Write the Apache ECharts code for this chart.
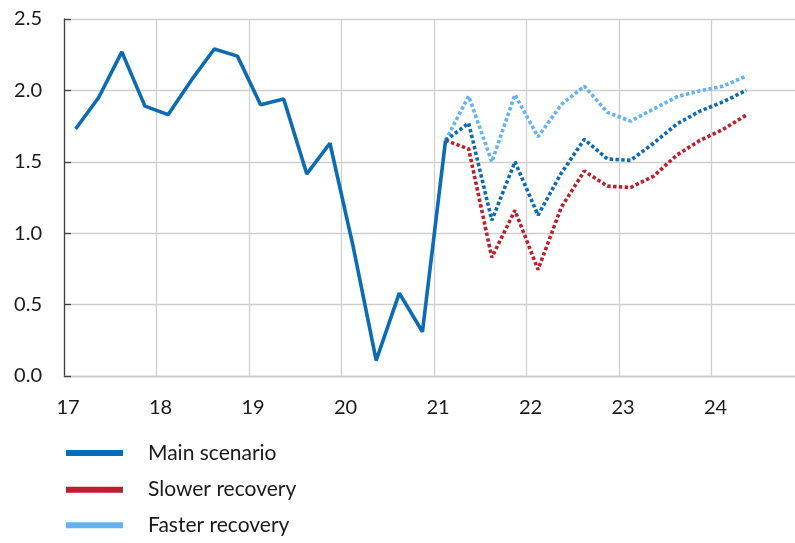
<!DOCTYPE html>
<html>
<head>
<meta charset="utf-8">
<script src="https://cdn.jsdelivr.net/npm/echarts@6/dist/echarts.min.js"></script>
<style>html,body{margin:0;padding:0;background:#fff;overflow:hidden;width:795px;height:543px;}#c{width:804px;height:543px;}</style>
</head>
<body>
<div id="c"></div>
<script>
// Quarterly categories 2017Q1 .. 2024Q4
const years = ['17','18','19','20','21','22','23','24'];
const quarters = [];
years.forEach(y => { for (let q = 1; q <= 4; q++) quarters.push(y + 'Q' + q); });

// Historical (17Q1 .. 21Q1)
const mainHistory = [1.73,1.95,2.27,1.89,1.83,2.07,2.29,2.24,1.90,1.94,1.415,1.63,0.91,0.11,0.58,0.31,1.65];
// Projections (21Q1 .. 24Q2)
const projStart = 16;
const mainProj   = [1.65,1.77,1.09,1.50,1.126,1.42,1.657,1.52,1.51,1.63,1.765,1.855,1.92,2.00];
const slowerProj = [1.65,1.59,0.83,1.16,0.745,1.18,1.435,1.33,1.32,1.40,1.547,1.65,1.727,1.827];
const fasterProj = [1.65,1.96,1.50,1.97,1.675,1.90,2.03,1.846,1.785,1.87,1.955,1.997,2.03,2.10];

const legendNames = ['Main scenario', 'Slower recovery', 'Faster recovery'];

function pad(arr, start) {
  const out = quarters.map(() => null);
  arr.forEach((v, i) => { out[start + i] = v; });
  return out;
}

const C_MAIN = '#0B6BB4', C_SLOW = '#BE1E2D', C_FAST = '#62B4F0';
const colors = [C_MAIN, C_SLOW, C_FAST];
const FONT = 'Lato';
const dotted = (color) => ({ color: color, width: 3.6, type: [3.4, 2.4], cap: 'butt' });
const legendTops = [441, 477.7, 513.3];

const chart = echarts.init(document.getElementById('c'), null, { renderer: 'canvas' });
chart.setOption({
  animation: false,
  grid: { left: 64, right: 0, top: 19, bottom: 167, containLabel: false },
  xAxis: {
    type: 'category',
    data: quarters,
    boundaryGap: true,
    axisLine: { show: true, lineStyle: { color: '#c8c8c8', width: 1.3 } },
    axisTick: { show: false },
    splitLine: { show: true, interval: (i) => i % 4 === 0, lineStyle: { color: '#cfcfcf', width: 1.3 } },
    axisLabel: {
      interval: (i) => i % 4 === 0,
      formatter: (v) => v.slice(0, 2),
      fontFamily: FONT, fontSize: 20, color: '#1a1a1a',
      margin: 22, padding: [0, 15, 0, 0]
    }
  },
  yAxis: {
    type: 'value', min: 0, max: 2.5, interval: 0.5,
    axisLine: { show: true, lineStyle: { color: '#404040', width: 1.3 } },
    axisTick: { show: true, inside: true, length: 7, lineStyle: { color: '#404040', width: 1.3 } },
    splitLine: { show: true, lineStyle: { color: '#cfcfcf', width: 1.3 } },
    axisLabel: {
      formatter: (v) => v.toFixed(1),
      fontFamily: FONT, fontSize: 20, color: '#1a1a1a', margin: 22
    }
  },
  legend: legendNames.map((n, i) => ({
    orient: 'vertical', left: 66, top: legendTops[i], padding: 0,
    icon: 'rect', itemWidth: 57, itemHeight: 6,
    textStyle: { fontFamily: FONT, fontSize: 21, color: '#1a1a1a', lineHeight: 24, padding: [0, 0, 0, 20] },
    data: [{ name: n, itemStyle: { color: colors[i] } }]
  })),
  series: [
    { name: 'Faster recovery', type: 'line', data: pad(fasterProj, projStart), showSymbol: false,
      itemStyle: { color: C_FAST }, lineStyle: dotted(C_FAST), z: 2 },
    { name: 'Slower recovery', type: 'line', data: pad(slowerProj, projStart), showSymbol: false,
      itemStyle: { color: C_SLOW }, lineStyle: dotted(C_SLOW), z: 3 },
    { name: 'Main scenario', type: 'line', data: pad(mainProj, projStart), showSymbol: false,
      itemStyle: { color: C_MAIN }, lineStyle: dotted(C_MAIN), z: 4 },
    { name: 'Main scenario', type: 'line', data: pad(mainHistory, 0), showSymbol: false,
      itemStyle: { color: C_MAIN }, lineStyle: { color: C_MAIN, width: 3.6 }, z: 5 }
  ]
});
</script>
</body>
</html>
